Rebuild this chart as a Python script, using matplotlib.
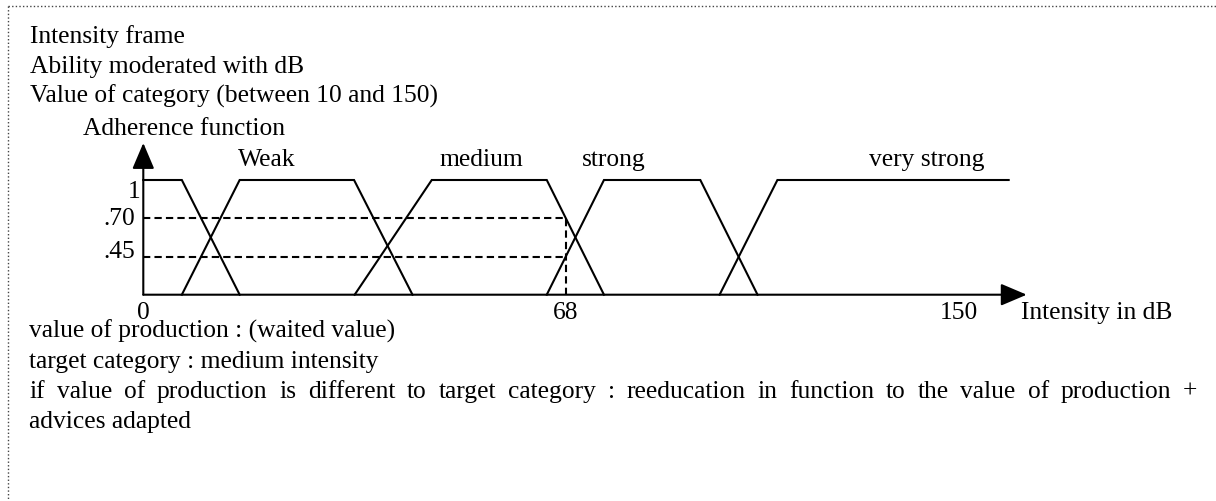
import matplotlib
matplotlib.use('Agg')
import matplotlib.pyplot as plt

W, H = 1216, 502
plt.rcParams['font.family'] = ['Liberation Serif', 'DejaVu Serif']
FS = 18.4

header_lines = ['Intensity frame',
                'Ability moderated with dB',
                'Value of category (between 10 and 150)']
y_title = 'Adherence function'
x_title = 'Intensity in dB'

# membership functions, breakpoints in dB and membership degree
mf_x = [[0, 6.2, 15.5],
        [6.2, 15.5, 33.9, 43.3],
        [34.0, 46.4, 64.9, 74.1],
        [64.9, 74.1, 89.6, 98.8],
        [92.7, 102.0, 139.2]]
mf_y = [[1, 1, 0],
        [0, 1, 1, 0],
        [0, 1, 1, 0],
        [0, 1, 1, 0],
        [0, 1, 1]]
set_names = ['Weak', 'medium', 'strong', 'very strong']
name_x = [19.9, 54.4, 75.7, 126.0]

production = 68
cut_levels = [0.667, 0.333]
cut_labels = ['.70', '.45']
xtick_pos = [0, 68, 131.2]
xtick_text = ['0', '68', '150']

footer_lines = ['value of production : (waited value)',
                'target category : medium intensity',
                'if value of production is different to target category : reeducation in function to the value of production +',
                'advices adapted']


def fx(px):
    return px / W


def fy(py):
    return 1 - py / H


fig = plt.figure(figsize=(W / 100, H / 100), dpi=100)
fig.patch.set_facecolor('white')

# dotted frame (top and left)
fig.add_artist(plt.Line2D([fx(8), fx(1216)], [fy(7), fy(7)], color='#444444', lw=1,
                          linestyle=(0, (1, 1.6))))
fig.add_artist(plt.Line2D([fx(8), fx(8)], [fy(7), fy(502)], color='#444444', lw=1,
                          linestyle=(0, (1, 1.6))))

for i, t in enumerate(header_lines):
    fig.text(fx(30), fy(43 + 30 * i), t, fontsize=FS, va='baseline', ha='left')
fig.text(fx(83), fy(135), y_title, fontsize=FS, va='baseline', ha='left')

ax = fig.add_axes([fx(143.3), fy(295.7), fx(1026.7 - 143.3), (295.7 - 144) / H])
ax.set_xlim(0, 142.1)
ax.set_ylim(0, 1.3226)
ax.axis('off')

for xs, ys in zip(mf_x, mf_y):
    ax.plot(xs, ys, color='black', lw=1.5, solid_joinstyle='miter', clip_on=False)

for name, x in zip(set_names, name_x):
    ax.text(x, 1.131, name, fontsize=FS, ha='center', va='baseline')

dash = (0, (3.5, 2))
for lev in cut_levels:
    ax.plot([0, production], [lev, lev], color='black', lw=1.5, linestyle=dash)
ax.plot([production, production], [0, max(cut_levels)], color='black', lw=1.5, linestyle=dash)

# axes with arrow heads
arrow = dict(arrowstyle='-|>,head_length=0.4,head_width=0.17', mutation_scale=40,
             color='black', lw=1.5, shrinkA=0, shrinkB=0)
ax.annotate('', xy=(0, 1), xytext=(0, 0), xycoords='axes fraction', arrowprops=arrow)
ax.annotate('', xy=(1, 0), xytext=(0, 0), xycoords='axes fraction', arrowprops=arrow)

ax.text(-0.5, 1, '1', fontsize=FS, ha='right', va='top')
ax.text(-1.3, cut_levels[0], cut_labels[0], fontsize=FS, ha='right', va='center')
ax.text(-1.3, cut_levels[1], cut_labels[1], fontsize=FS, ha='right', va='baseline')

for p, t in zip(xtick_pos, xtick_text):
    ax.text(p, -0.055, t, fontsize=FS, ha='center', va='top')
ax.text(141.2, -0.055, x_title, fontsize=FS, ha='left', va='top')

# footer text, third line justified across the page width
renderer = fig.canvas.get_renderer()
for i, t in enumerate(footer_lines):
    y = fy(338 + 30 * i)
    if i == 2:
        words = t.split(' ')
        arts = [fig.text(0, y, w, fontsize=FS, va='baseline', ha='left') for w in words]
        widths = [a.get_window_extent(renderer).width for a in arts]
        gap = (1197.3 - 29.3 - sum(widths)) / (len(words) - 1)
        px = 29.3
        for a, wd in zip(arts, widths):
            a.set_x(fx(px))
            px += wd + gap
    else:
        fig.text(fx(29.3), y, t, fontsize=FS, va='baseline', ha='left')

fig.savefig('out.png', dpi=100)
